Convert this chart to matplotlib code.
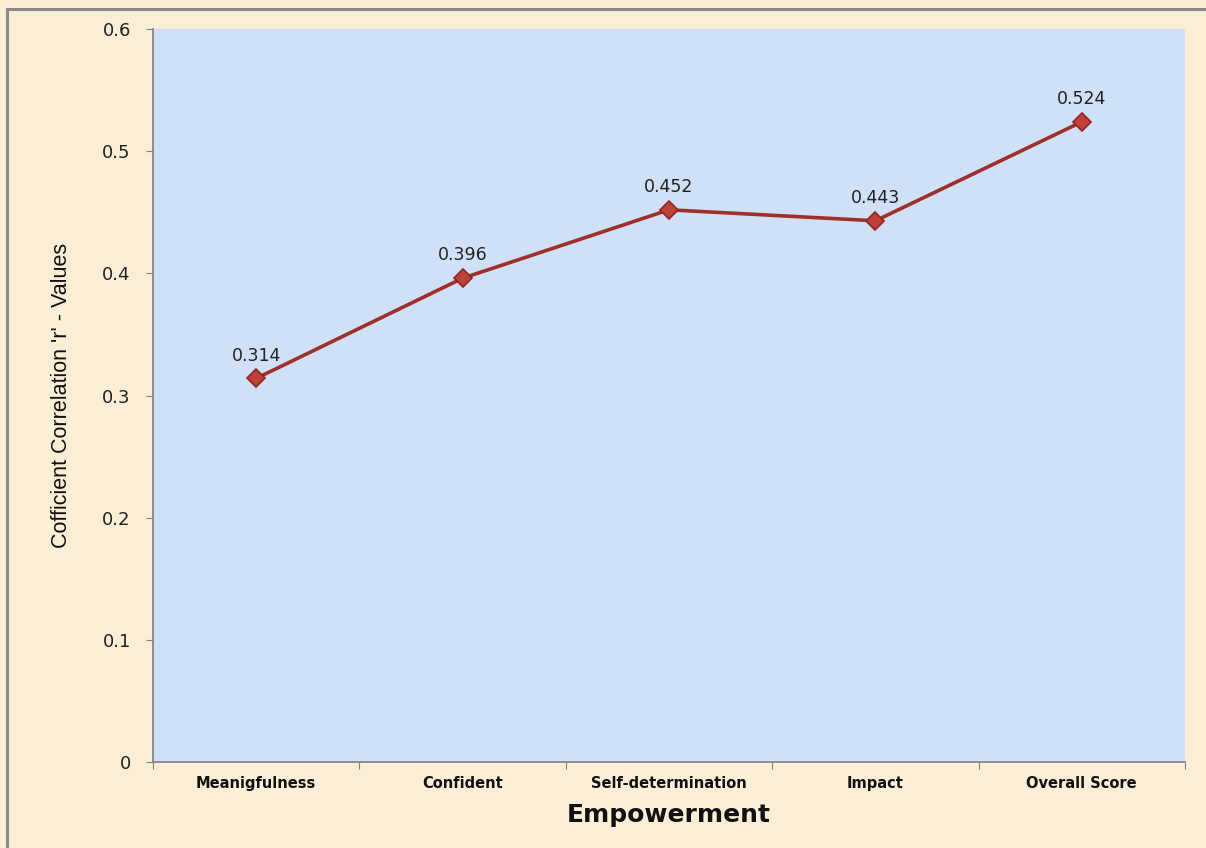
import matplotlib
matplotlib.use("Agg")
import matplotlib.pyplot as plt
from matplotlib.lines import Line2D
from matplotlib import font_manager

categories = ["Meanigfulness", "Confident", "Self-determination", "Impact", "Overall Score"]
r_values = [0.314, 0.396, 0.452, 0.443, 0.524]
y_ticks = [0, 0.1, 0.2, 0.3, 0.4, 0.5, 0.6]
y_tick_labels = ["0", "0.1", "0.2", "0.3", "0.4", "0.5", "0.6"]

plt.rcParams["font.family"] = ["DejaVu Sans"]
installed = {f.name for f in font_manager.fontManager.ttflist}
narrow = "Liberation Sans Narrow" if "Liberation Sans Narrow" in installed else "Liberation Sans"

W, H = 1206, 848
fig = plt.figure(figsize=(W / 100, H / 100), dpi=100)
fig.patch.set_facecolor("#FBEED6")

# outer chart frame (top and left edges visible)
fig.add_artist(Line2D([7 / W, 7 / W], [0, 1 - 9 / H], transform=fig.transFigure,
                      color="#8A8A8A", lw=2.2))
fig.add_artist(Line2D([7 / W, 1], [1 - 9 / H, 1 - 9 / H], transform=fig.transFigure,
                      color="#8A8A8A", lw=2.2))

left, right, top, bottom = 153, 1185, 29, 762
ax = fig.add_axes([left / W, 1 - bottom / H, (right - left) / W, (bottom - top) / H])
ax.set_facecolor("#D0E0F6")

x = list(range(len(categories)))
ax.plot(x, r_values, color="#9E2F2A", lw=2.6, marker="D", markersize=9,
        markerfacecolor="#C0403A", markeredgecolor="#8E2622", markeredgewidth=1.2,
        zorder=3)

for xi, v in zip(x, r_values):
    ax.annotate(f"{v:.3f}", (xi, v), xytext=(0, 10), textcoords="offset points",
                ha="center", va="bottom", fontsize=12.5, color="#222222")

ax.set_xlim(-0.5, len(categories) - 0.5)
ax.set_ylim(0, 0.6)
ax.set_yticks(y_ticks)
ax.set_yticklabels(y_tick_labels, fontsize=13, color="#222222")

ax.set_xticks([i - 0.5 for i in range(len(categories) + 1)])
ax.set_xticklabels([])
ax.set_xticks(x, minor=True)
ax.set_xticklabels(categories, minor=True, fontsize=10.5, fontweight="bold", color="#111111")
ax.tick_params(axis="x", which="minor", length=0, pad=10)
ax.tick_params(axis="x", which="major", length=5, color="#808080", direction="out")
ax.tick_params(axis="y", length=5, color="#808080", direction="out", pad=11)

for s in ("top", "right"):
    ax.spines[s].set_visible(False)
for s in ("left", "bottom"):
    ax.spines[s].set_color("#808080")
    ax.spines[s].set_linewidth(1.2)

ax.set_xlabel("Empowerment", fontsize=18, fontweight="bold", color="#111111", labelpad=9)
ax.set_ylabel("Cofficient Correlation 'r' - Values", fontsize=15.5, color="#111111",
              family=narrow)
ax.yaxis.set_label_coords((72 - left) / (right - left), 0.5)

fig.savefig("out.png", dpi=100, facecolor=fig.get_facecolor())
